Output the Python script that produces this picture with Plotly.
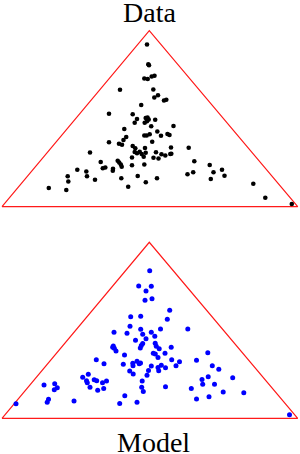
import plotly.graph_objects as go

# Simplex outline (same for both panels)
triangle_x = [0, 295.7, 147.3, 0]
triangle_y = [0, 0, 176, 0]

# Observed compositions (projected simplex coordinates)
data_x = [145, 146.3, 147, 142.3, 145.7, 149.7, 152.5, 118, 151.3, 156, 152.3, 162, 164.3, 139.2,
          107, 130.7, 135, 132.7, 143.7, 145.5, 146.7, 142.7, 145, 153.2, 149.2, 171.5, 122.3,
          155.3, 159, 165.5, 167.5, 142.3, 144.7, 147.7, 124.2, 121.5, 107, 117, 120, 150.2,
          130.7, 133.3, 143, 169, 186.7, 88, 132.7, 135, 137.7, 139.7, 143.7, 154, 141.7, 130,
          159.5, 163.3, 168.3, 169.3, 151.5, 156.5, 115.7, 117.2, 118.8, 98.7, 192.3, 119.7,
          130, 142.3, 100.8, 103.3, 111, 110.8, 75.3, 84.3, 85, 65.7, 66.3, 93, 119.3, 135.7,
          143.8, 155, 126.2, 46.8, 64.3, 185.5, 191.2, 207.7, 211.5, 208.8, 220, 222.5, 251.3,
          263.3, 289.8]
data_y = [162.2, 142.5, 141.4, 128.2, 127.7, 130.2, 130.9, 116.9, 117.2, 111.5, 109.2, 106.2, 107,
          101.7, 93, 92.4, 87.7, 84, 88.7, 89.2, 87.2, 84, 85.4, 87, 80.5, 80.7, 77.7, 75.2, 71,
          72.7, 71.7, 71.2, 71.2, 72.4, 69.7, 66.7, 64.4, 63, 62, 65, 60.7, 58.4, 58.7, 59.2,
          58.9, 54.2, 54.7, 53.4, 55, 52.7, 54, 54.4, 50, 49.2, 52.4, 51.2, 52.7, 53, 49, 48.2,
          45.9, 44.2, 42.2, 44.7, 45.4, 40, 41.4, 42.2, 38.4, 39.2, 38, 35.9, 37, 35.2, 30.4,
          30.4, 25.2, 26.9, 28.4, 30.7, 24.4, 28.5, 20, 18.7, 16.7, 32.4, 34.4, 41.7, 34.4,
          27.7, 37, 31, 23, 9, 2.7]

# Model compositions
model_x = [147.7, 136.7, 149.3, 144, 143, 150, 167.7, 165.3, 128.7, 138.7, 128, 112, 125, 138.7,
           140.7, 149.3, 152.8, 158.5, 185.8, 144, 133.5, 139.3, 140.7, 138.3, 153.2, 154.3,
           157.2, 156, 111.3, 110.7, 112.3, 114, 122.5, 151.3, 153.3, 163, 169.2, 205.8, 94.3,
           102, 121.3, 130.8, 131, 135, 137.2, 138.5, 149.3, 156, 159.3, 156.7, 163.5, 169.7,
           177.5, 174, 194.5, 210.3, 216.8, 127.7, 131.2, 146.5, 145, 80.7, 86.3, 84.5, 85.3,
           92.2, 94.7, 100.5, 104.5, 140.2, 206.2, 230.7, 200, 200.7, 212.5, 42, 52.7, 55.3,
           52.3, 88, 95.7, 101.7, 139.7, 141.3, 163.5, 189.3, 221.2, 241.8, 194.5, 207, 46.5,
           45.2, 72, 122.8, 117.7, 135, 14, 287.5]
model_y = [147.5, 132.3, 132.1, 127.3, 118.1, 119.5, 108, 99.1, 101.6, 102, 92.1, 86, 85, 89, 84,
           86, 82.1, 89.3, 89.3, 79.5, 78, 72.8, 74.8, 70.3, 75, 72.1, 69.6, 60.8, 72.3, 71,
           70.1, 67.3, 63.3, 65.1, 64.3, 65, 71, 65.6, 58.6, 54.6, 54, 55, 52.6, 57.1, 54.6,
           55.3, 52.3, 50.8, 53.1, 47.6, 50.6, 58.5, 56.6, 52.6, 58, 52.6, 49, 47.3, 44.3, 47.8,
           43, 41, 44, 37.5, 35.6, 38.6, 37.6, 35.6, 37.3, 37.3, 41.6, 40.6, 38.8, 34, 34.1,
           33.3, 34.6, 30.6, 28.5, 31, 28, 29.8, 31, 26.8, 31.6, 29.8, 26.3, 25.6, 19.3, 21.6,
           19.1, 16.1, 17.3, 22.6, 14.8, 16, 14.6, 3.5]

panel_titles = ["Data", "Model"]

fig = go.Figure()

# Top panel: data
fig.add_trace(go.Scatter(x=triangle_x, y=triangle_y, mode="lines",
                         line=dict(color="#ff1a1a", width=1.2),
                         xaxis="x", yaxis="y", hoverinfo="skip"))
fig.add_trace(go.Scatter(x=data_x, y=data_y, mode="markers",
                         marker=dict(color="black", size=4.6, line=dict(width=0)),
                         xaxis="x", yaxis="y", cliponaxis=False))

# Bottom panel: model
fig.add_trace(go.Scatter(x=triangle_x, y=triangle_y, mode="lines",
                         line=dict(color="#ff1a1a", width=1.2),
                         xaxis="x2", yaxis="y2", hoverinfo="skip"))
fig.add_trace(go.Scatter(x=model_x, y=model_y, mode="markers",
                         marker=dict(color="#0000ff", size=5, line=dict(width=0)),
                         xaxis="x2", yaxis="y2", cliponaxis=False))

ax = dict(visible=False, showgrid=False, zeroline=False, fixedrange=True)
fig.update_layout(
    width=300, height=454,
    margin=dict(l=0, r=0, t=0, b=0),
    paper_bgcolor="white", plot_bgcolor="white",
    showlegend=False,
    font=dict(family="Liberation Serif, Times New Roman, serif", color="black"),
    xaxis=dict(ax, range=[-2, 298], domain=[0, 1]),
    yaxis=dict(ax, range=[-10, 185], domain=[0.52269, 0.95220]),
    xaxis2=dict(ax, range=[-2, 298], domain=[0, 1]),
    yaxis2=dict(ax, range=[-10, 185], domain=[0.05661, 0.48612]),
    annotations=[
        dict(text=panel_titles[0], x=0.497, y=0.9725, xref="paper", yref="paper",
             xanchor="center", yanchor="middle", showarrow=False,
             font=dict(size=28, family="Liberation Serif, Times New Roman, serif", color="black")),
        dict(text=panel_titles[1], x=0.511, y=0.0256, xref="paper", yref="paper",
             xanchor="center", yanchor="middle", showarrow=False,
             font=dict(size=28, family="Liberation Serif, Times New Roman, serif", color="black")),
    ],
)

fig.write_html("out.html", config={"displayModeBar": False},
               post_script="document.body.style.margin='0';document.body.style.overflow='hidden';")
